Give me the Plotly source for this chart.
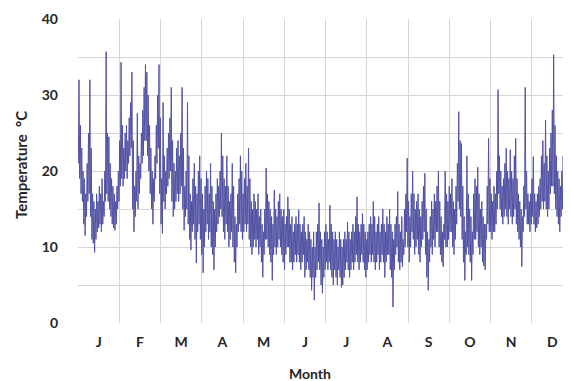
import plotly.graph_objects as go

# Daily maximum / minimum temperatures (°C), day 0..364
daily_max = [
    32, 26, 23, 20, 19, 17, 21, 25, 32, 23,
    17, 16, 15, 17, 16, 18, 17, 19, 16, 20,
    35.7, 25, 24.5, 21, 19, 18, 17, 16, 18, 20,
    24, 34.3, 26, 23, 25, 26, 24, 27, 29, 33,
    24, 18, 20, 27.6, 22, 21, 25, 28, 31, 34,
    33, 30, 26, 23, 20, 19, 22, 26, 30, 34,
    27, 19, 29, 22, 20, 23, 25, 27, 31, 24,
    21, 20, 23, 24, 22, 25, 31, 23, 18, 20,
    29, 22, 17, 16, 19, 21, 18, 17, 20, 22,
    19, 17, 15, 18, 20, 19, 17, 21, 18, 16,
    15, 17, 19, 18, 20, 25, 22, 19, 18, 22,
    18, 16, 17, 21, 18, 14, 13, 17, 19, 22,
    20, 17, 19, 21, 18, 23, 19, 16, 15, 17,
    16, 15, 17, 14, 15, 13, 12, 15, 20.4, 17,
    16, 15, 14, 13, 17.5, 15, 14, 16, 17, 15,
    14, 15, 13, 14, 16.6, 15, 13, 14, 12, 13,
    14, 13, 14.9, 13, 12, 13, 14, 12, 11, 13,
    12, 11, 10, 12, 10, 12, 13, 15.8, 12, 11,
    10, 12, 13, 12, 11, 15.5, 13, 12, 11, 12,
    11, 10, 12, 11, 10, 11, 12, 11, 13.3, 12,
    11, 12, 13, 12, 14, 16.6, 13, 12, 13, 14.4,
    13, 12, 11, 12, 13, 14, 13, 16, 14, 12,
    13, 14, 12, 13, 15, 13, 12, 14, 13, 15,
    13, 12, 11, 13, 14, 17.3, 13, 12, 14, 11,
    15, 17, 21.7, 16, 14, 17, 20, 17, 15, 16,
    17, 15, 14, 16, 18, 19.7, 15, 12, 11, 14,
    16, 15, 17, 16, 18, 20, 16, 14, 12, 13,
    20, 17, 16, 18, 17, 19, 16, 15, 18, 21,
    27.8, 24, 23.6, 18, 14, 12, 22, 17, 15, 14,
    12, 17, 19, 18, 20.5, 17, 15, 16, 14, 13,
    13, 18, 24.3, 19, 17, 16, 18, 17, 20, 30.7,
    22, 20, 18, 19, 21, 23, 20, 19, 22.8, 20,
    19, 22, 24.3, 19, 17, 16, 15, 14, 18, 31,
    20, 17, 16, 17, 19, 21.9, 17, 16, 17, 18,
    19, 22, 24, 21, 26.7, 22, 20, 23, 25, 28,
    35.3, 26, 22, 20, 19, 18, 20, 22, 25, 32,
    24, 19, 18, 20, 19,
]
daily_min = [
    21, 19, 17, 16, 13, 11.5, 14, 16, 17, 14,
    11, 10.5, 9.3, 11, 12, 12.5, 13, 12, 13, 14,
    16, 17, 16, 15, 14, 13, 12.5, 12.2, 13, 15,
    16, 18, 19, 18, 19, 20, 19, 21, 22, 23,
    15, 12, 14, 16, 15, 17, 19, 21, 22, 24,
    24, 22, 20, 17, 15, 13, 16, 19, 21, 23,
    17, 13, 11.8, 16, 15, 17, 18, 19, 20, 16,
    14, 15, 16, 17, 16, 17, 18, 15, 12.2, 14,
    15, 13, 11, 9.6, 12, 13, 11, 7.9, 12, 13,
    11, 9, 6.6, 10, 12, 13, 11, 12, 10, 9,
    7, 10, 12, 13, 14, 15, 14, 12, 11, 13,
    12, 10, 11, 12, 10, 8, 6.6, 10, 12, 13,
    12, 11, 12, 13, 12, 13, 11, 10, 9, 10,
    11, 10, 11, 9, 10, 8, 6, 9, 11, 11,
    10, 9, 8, 5.6, 9, 10, 9, 10, 11, 10,
    9, 8, 7, 9, 10, 10, 8, 8, 7, 8,
    9, 8, 9, 8, 7, 8, 9, 6, 7, 8,
    7, 6, 4.3, 6, 3, 6, 7, 8, 7, 5,
    3.9, 6, 7, 8, 7, 8, 7, 6, 5, 7,
    6, 5, 7, 6, 4.7, 5, 6, 7, 8, 7,
    6, 7, 8, 7, 8, 9, 8, 7, 8, 9,
    8, 7, 6, 7, 8, 9, 8, 9, 8, 7,
    8, 9, 7, 8, 9, 8, 6, 8, 9, 9,
    7, 6, 2.1, 7, 9, 10, 8, 7, 8, 7.4,
    9, 10, 12, 10, 8, 10, 12, 11, 9, 10,
    11, 9, 8, 10, 11, 12, 9, 6, 4.3, 8,
    10, 9, 11, 10, 12, 12, 10, 9, 8, 7.4,
    11, 10, 10, 11, 12, 12, 10, 9, 11, 13,
    16, 15, 14, 11, 8, 5.6, 9, 10, 9, 8,
    5.6, 9, 11, 11, 12, 10, 9, 10, 8, 7.5,
    7, 11, 13, 12, 12, 11, 12, 12, 13, 15,
    17, 15, 14, 13, 14, 15, 14, 13, 15, 14,
    13, 14, 15, 13, 12, 11, 10, 7.4, 12, 14,
    15, 13, 13, 12, 13, 14, 13, 12, 12.5, 13,
    14, 15, 16, 15, 16, 15, 14, 15, 17, 18,
    18, 17, 15, 14, 13, 12, 14, 15, 16, 17,
    16, 14, 15, 15, 16,
]
month_labels = ["J", "F", "M", "A", "M", "J", "J", "A", "S", "O", "N", "D"]
y_ticks = [0, 5, 10, 15, 20, 25, 30, 35, 40]
y_ticktext = ["0", "", "10", "", "20", "", "30", "", "40"]

n_days = len(daily_max)
month_len = n_days / 12

xs, ys = [], []
for d in range(n_days):
    xs += [d + 0.25, d + 0.75]
    ys += [daily_min[d], daily_max[d]]

fig = go.Figure()
fig.add_trace(go.Scatter(
    x=xs, y=ys, mode="lines",
    line=dict(color="#5252a4", width=1),
    hoverinfo="skip", showlegend=False,
))

# The page body has an 8 px margin, so the figure is sized 8 px smaller.
W, H = 563, 373
L, T, B = 70, 11, 58
plot_w = W - L
plot_h = H - T - B

font_fam = "Lato, Open Sans, Arial, sans-serif"
fig.update_layout(
    width=W, height=H,
    margin=dict(l=L, r=0, t=T, b=B, autoexpand=False),
    paper_bgcolor="white", plot_bgcolor="white",
    font=dict(family=font_fam, color="#262626"),
    xaxis=dict(
        range=[0, n_days * 493 / 495],
        tickvals=[(i + 0.5) * month_len for i in range(12)],
        ticktext=[f"<b>{m}</b>" for m in month_labels],
        tickfont=dict(size=14),
        showgrid=False, zeroline=False, ticks="",
        ticklabelstandoff=9, automargin=False,
        minor=dict(tick0=0, dtick=month_len, showgrid=True,
                   gridcolor="#d6d6d6", gridwidth=1, ticks=""),
    ),
    yaxis=dict(
        range=[0, 40],
        tickvals=y_ticks,
        ticktext=[f"<b>{t}</b>" if t else "" for t in y_ticktext],
        tickfont=dict(size=14),
        showgrid=True, gridcolor="#d6d6d6", gridwidth=1,
        zeroline=False, ticks="",
        ticklabelstandoff=19, automargin=False,
    ),
    annotations=[
        dict(text="<b>Month</b>", xref="paper", yref="paper",
             x=(302 - L) / plot_w, y=(T + plot_h - 365) / plot_h,
             xanchor="center", yanchor="middle",
             showarrow=False, font=dict(size=14)),
        dict(text="<b>Temperature  °C</b>", xref="paper", yref="paper",
             x=(13 - L) / plot_w, y=(T + plot_h - 157) / plot_h,
             xanchor="center", yanchor="middle", textangle=-90,
             showarrow=False, font=dict(size=15)),
    ],
)

fig.write_html("out.html")
